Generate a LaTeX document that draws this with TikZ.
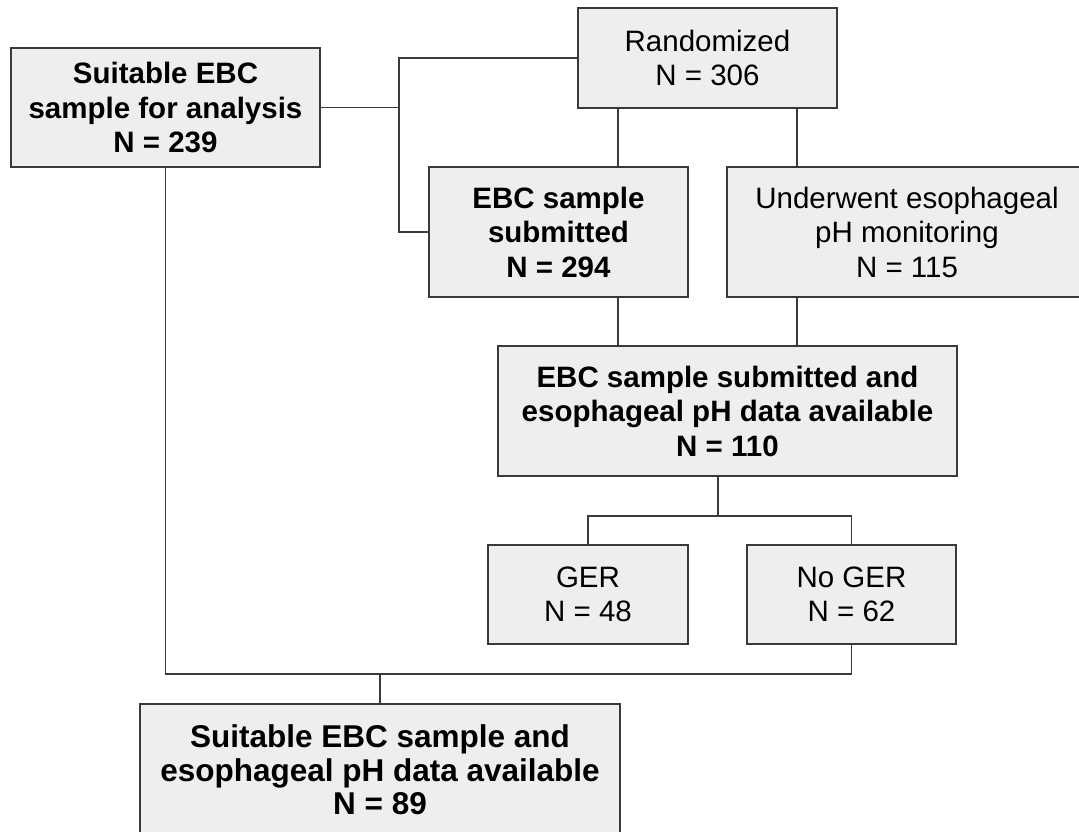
\documentclass[tikz,border=0pt]{standalone}
\usepackage{fontspec}
\setmainfont{Liberation Sans}
\begin{document}
\begin{tikzpicture}[x=1pt,y=1pt,
  box/.style={draw=linec, line width=1.4pt, fill=boxfill, align=center, inner sep=0pt,
    font=\fontsize{29.5}{34.5}\selectfont},
  boldbox/.style={box, font=\fontsize{29.5}{34.5}\selectfont\bfseries},
  conn/.style={draw=linec, line width=1.4pt}]
\definecolor{boxfill}{HTML}{EEEEEE}
\definecolor{linec}{HTML}{3A3A3A}
\useasboundingbox (0,0) rectangle (1079,-831);
\clip (0,0) rectangle (1079,-831);
\node[boldbox, minimum width=309pt, minimum height=119pt] (b1) at (165.5,-107.5) {Suitable EBC\\sample for analysis\\N = 239};
\node[box, minimum width=259pt, minimum height=100pt] (rand) at (707.5,-58) {Randomized\\N = 306};
\node[boldbox, minimum width=259pt, minimum height=130pt] (sub) at (558.5,-232) {EBC sample\\submitted\\N = 294};
\node[box, minimum width=360pt, minimum height=130pt] (und) at (907,-232) {Underwent esophageal\\pH monitoring\\N = 115};
\node[boldbox, minimum width=459pt, minimum height=130pt] (both) at (727.5,-411) {EBC sample submitted and\\esophageal pH data available\\N = 110};
\node[box, minimum width=200pt, minimum height=99pt] (ger) at (588,-594.5) {GER\\N = 48};
\node[box, minimum width=209pt, minimum height=99pt] (noger) at (851.5,-594.5) {No GER\\N = 62};
\node[boldbox, minimum width=480pt, minimum height=132pt, font=\fontsize{31.5}{33.5}\selectfont\bfseries] (final) at (380,-770) {Suitable EBC sample and\\esophageal pH data available\\N = 89};
\coordinate (j1) at (399,-107.5);
\coordinate (xa) at (618,0);
\coordinate (xb) at (797,0);
\coordinate (split) at (718,-516);
\coordinate (m) at (380,-674);
\draw[conn] (b1.east) -- (j1);
\draw[conn] (rand.west) -| (j1) |- (sub.west);
\draw[conn] (xa |- rand.south) -- (xa |- sub.north);
\draw[conn] (xa |- sub.south) -- (xa |- both.north);
\draw[conn] (xb |- rand.south) -- (xb |- und.north);
\draw[conn] (xb |- und.south) -- (xb |- both.north);
\draw[conn] (split |- both.south) -- (split);
\draw[conn] (ger.north) |- (split) -| (noger.north);
\draw[conn] (b1.south) |- (m) -| (noger.south);
\draw[conn] (m) -- (final.north);
\end{tikzpicture}
\end{document}
